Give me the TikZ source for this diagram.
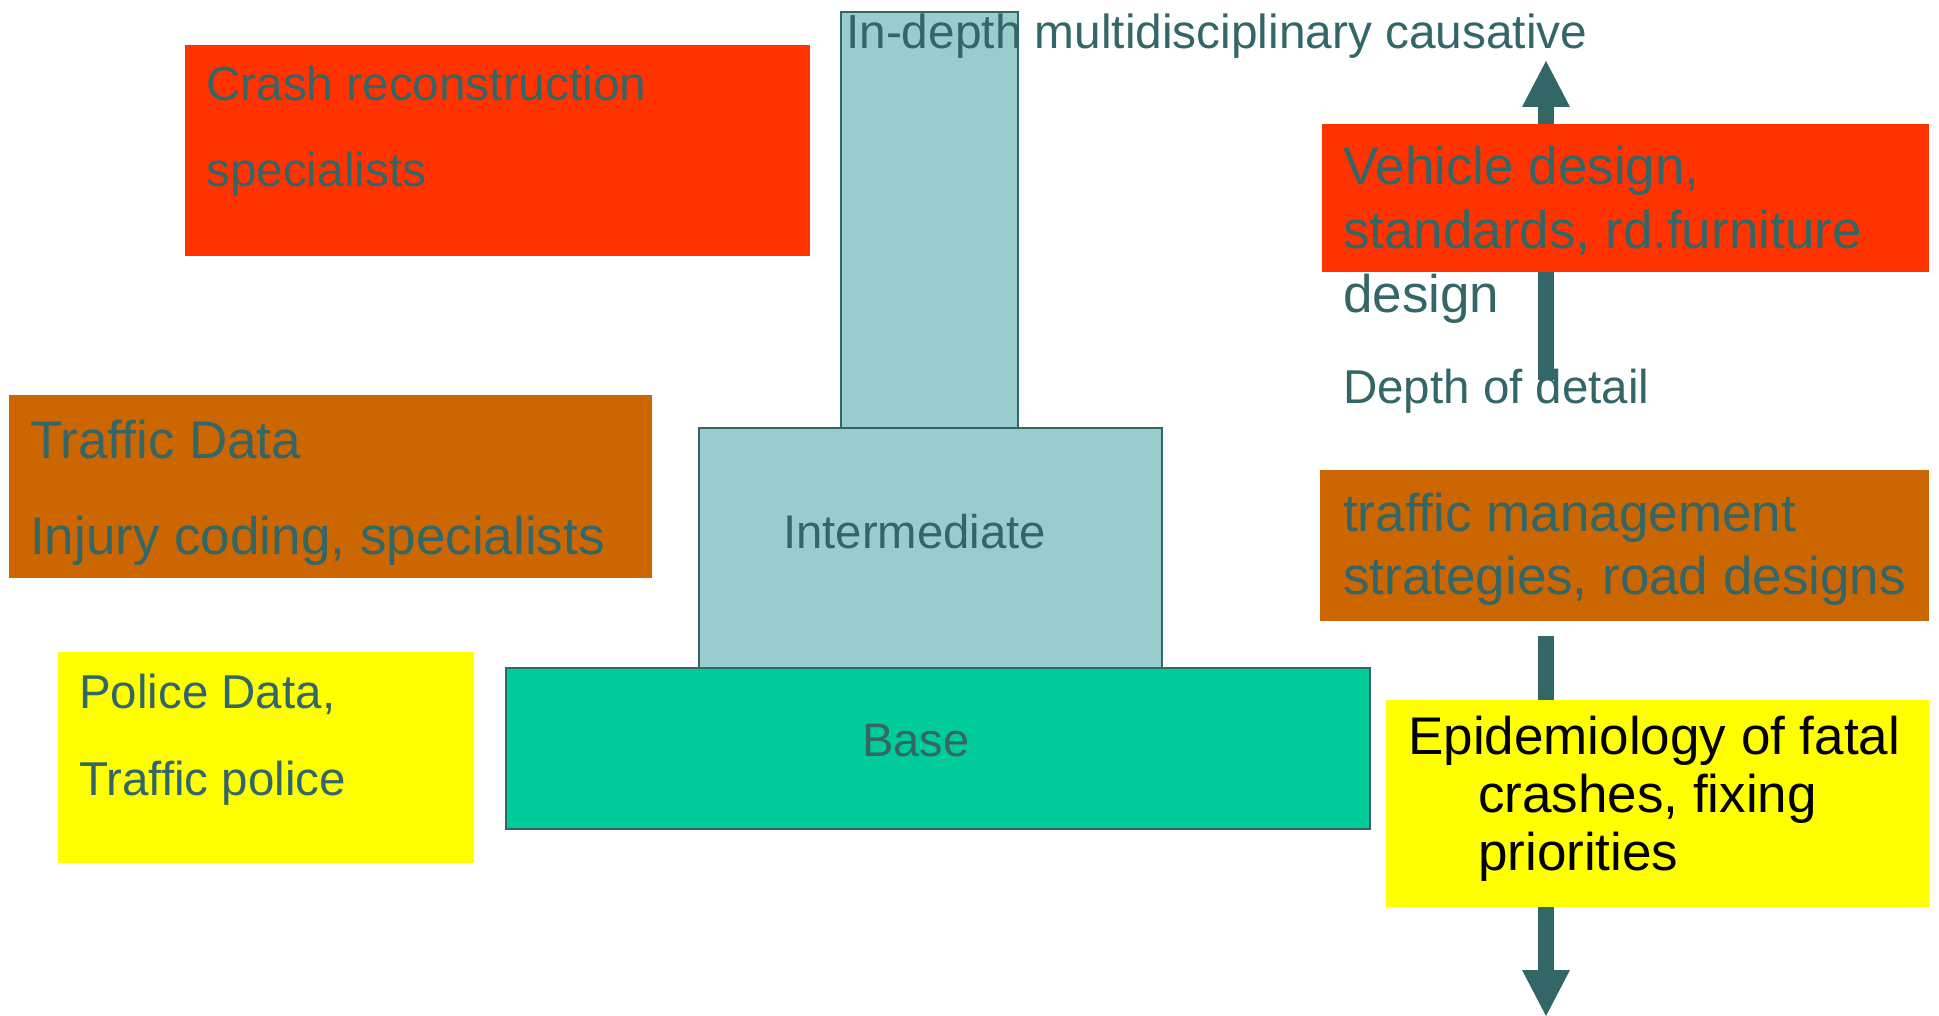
\documentclass[tikz,border=0pt]{standalone}
\usepackage{fontspec}
\setmainfont{Liberation Sans}
\usepackage{xcolor}
\usepackage{tikz}
\usetikzlibrary{arrows.meta,positioning}
\definecolor{slate}{HTML}{336666}
\definecolor{crashred}{HTML}{FF3300}
\definecolor{rust}{HTML}{CC6600}
\definecolor{lemon}{HTML}{FFFF00}
\definecolor{pale}{HTML}{99CCCC}
\definecolor{mint}{HTML}{00CC99}
\tikzset{
  panel/.style={
    rectangle, draw=none, inner sep=0pt, outer sep=0pt, anchor=north west
  },
  tier/.style={
    rectangle, draw=slate, line width=2.5pt, inner sep=0pt, outer sep=0pt
  },
  caption/.style={
    text=slate, inner sep=0pt, anchor=base west, align=left,
    font=\fontsize{47.5}{57}\selectfont
  },
  depth/.style={
    -{Triangle[width=48pt,length=46pt,line width=0pt]}, line width=16pt, slate
  },
}

\begin{document}
\begin{tikzpicture}[x=1pt, y=-1pt]
  \useasboundingbox (0,0) rectangle (1939,1016);

  % Depth of detail arrows
  \coordinate (upfoot) at (1546,380);
  \coordinate (uptip) at (1546,61);
  \coordinate (downtop) at (1546,636);
  \coordinate (downtip) at (1546,1016);
  \draw[depth] (upfoot) -- (uptip);
  \draw[depth] (downtop) -- (downtip);

  % Left panels
  \node[panel, fill=crashred, minimum width=625pt, minimum height=211pt]
    (crashbox) at (185,45) {};
  \node[panel, fill=rust, minimum width=643pt, minimum height=183pt]
    (trafficbox) at (9,395) {};
  \node[panel, fill=lemon, minimum width=416pt, minimum height=211pt]
    (policebox) at (58,652) {};

  % Right panels
  \node[panel, fill=crashred, minimum width=607pt, minimum height=148pt]
    (vehiclebox) at (1322,124) {};
  \node[panel, fill=rust, minimum width=609pt, minimum height=151pt]
    (mgmtbox) at (1320,470) {};
  \node[panel, fill=lemon, minimum width=543pt, minimum height=207pt]
    (epibox) at (1386,700) {};

  % Pyramid
  \node[tier, fill=mint, anchor=north west, minimum width=864pt,
    minimum height=161pt] (base) at (506,668) {};
  \node[tier, fill=pale, above right=0pt and 193pt of base.north west,
    anchor=south west, minimum width=463pt, minimum height=240pt] (mid) {};
  \node[tier, fill=pale, above right=0pt and 142pt of mid.north west,
    anchor=south west, minimum width=177pt, minimum height=416pt] (top) {};

  % Texts (base = last line)
  \node[caption, font=\fontsize{47.7}{86}\selectfont] (crashtxt) at (206,187)
    {Crash reconstruction\\specialists};
  \node[caption, font=\fontsize{53}{96}\selectfont] (traffictxt) at (30,554)
    {Traffic Data\\Injury coding, specialists};
  \node[caption, font=\fontsize{47.5}{87}\selectfont] (policetxt) at (79,795)
    {Police Data,\\Traffic police};
  \node[caption, font=\fontsize{47.8}{57}\selectfont] (toptxt) at (846,49)
    {In-depth multidisciplinary causative};
  \node[caption, font=\fontsize{47.3}{57}\selectfont] (midtxt) at (783,548)
    {Intermediate};
  \node[caption, font=\fontsize{47}{57}\selectfont] (basetxt) at (862,756)
    {Base};
  \node[caption, font=\fontsize{53}{64}\selectfont] (vehicletxt) at (1343,313)
    {Vehicle design,\\standards, rd.furniture\\design};
  \node[caption] (depthtxt) at (1343,403) {Depth of detail};
  \node[caption, font=\fontsize{53}{63}\selectfont] (mgmttxt) at (1343,594)
    {traffic management\\strategies, road designs};
  \node[caption, text=black, font=\fontsize{53}{58}\selectfont] (epitxt)
    at (1408,870) {Epidemiology of fatal\\\hspace*{70pt}crashes, fixing\\
    \hspace*{70pt}priorities};
\end{tikzpicture}
\end{document}
